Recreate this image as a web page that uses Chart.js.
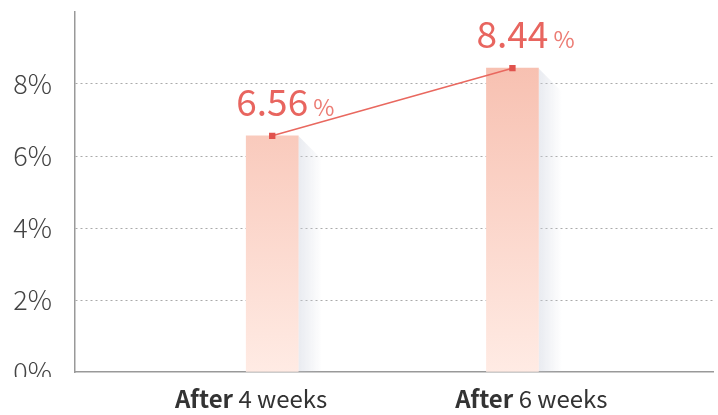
<!DOCTYPE html>
<html>
<head>
<meta charset="utf-8">
<script src="https://cdn.jsdelivr.net/npm/chart.js@4"></script>
<style>
  html, body { margin: 0; padding: 0; background: #fff; }
  #wrap { width: 718px; height: 415px; }
</style>
</head>
<body>
<div id="wrap"><canvas id="chart"></canvas></div>
<script>
const weeks = ["4 weeks", "6 weeks"];
const rates = [6.56, 8.44];
const yTicks = [0, 2, 4, 6, 8];

const FONT = "'Noto Sans CJK KR', 'Noto Sans', sans-serif";

// shadow on the right side of each bar
const barShadow = {
  id: "barShadow",
  beforeDatasetsDraw(chart) {
    const ctx = chart.ctx;
    chart.getDatasetMeta(0).data.forEach(bar => {
      const right = bar.x + bar.width / 2;
      const w = 24;
      const g = ctx.createLinearGradient(right, 0, right + w, 0);
      g.addColorStop(0, "rgba(205,210,222,0.45)");
      g.addColorStop(1, "rgba(205,210,222,0)");
      ctx.save();
      ctx.fillStyle = g;
      ctx.beginPath();
      ctx.moveTo(right, bar.y);
      ctx.lineTo(right + w, bar.y + w);
      ctx.lineTo(right + w, bar.base);
      ctx.lineTo(right, bar.base);
      ctx.closePath();
      ctx.fill();
      ctx.restore();
    });
  }
};

// value labels, x labels and clipping of the 0% tick
const labels = {
  id: "labels",
  afterDraw(chart) {
    const ctx = chart.ctx;
    const area = chart.chartArea;
    ctx.save();
    // the 0% label is cut off in the original
    ctx.fillStyle = "#fff";
    ctx.fillRect(0, area.bottom + 5, area.left - 4, chart.height - area.bottom);

    ctx.textBaseline = "alphabetic";
    chart.getDatasetMeta(1).data.forEach((pt, i) => {
      const num = rates[i].toFixed(2);
      ctx.font = "400 37px " + FONT;
      const w = ctx.measureText(num).width;
      const base = pt.y - 20;
      ctx.fillStyle = "#e8655f";
      ctx.textAlign = "center";
      ctx.fillText(num, pt.x, base);
      ctx.font = "400 23px " + FONT;
      ctx.fillStyle = "#ec7d75";
      ctx.textAlign = "left";
      ctx.fillText("%", pt.x + w / 2 + 5, base);
    });

    const x2 = chart.scales.x2;
    weeks.forEach((wk, i) => {
      const cx = x2.getPixelForValue(i);
      ctx.font = "700 24px " + FONT;
      const a = ctx.measureText("After").width;
      ctx.font = "400 24px " + FONT;
      const b = ctx.measureText(" " + wk).width;
      const start = cx - (a + b) / 2;
      ctx.fillStyle = "#333";
      ctx.textAlign = "left";
      ctx.font = "700 24px " + FONT;
      ctx.fillText("After", start, 408);
      ctx.font = "400 24px " + FONT;
      ctx.fillText(" " + wk, start + a, 408);
    });
    ctx.restore();
  }
};

const noPad = (s) => {
  s.paddingTop = 0; s.paddingBottom = 0;
  s.paddingLeft = 0; s.paddingRight = 0;
};

new Chart(document.getElementById("chart"), {
  type: "bar",
  data: {
    datasets: [
      {
        type: "bar",
        data: rates.map((v, i) => ({ x: i, y: v })),
        barThickness: 52,
        backgroundColor: (c) => {
          const a = c.chart.chartArea;
          if (!a) return "#f8c6b8";
          const g = c.chart.ctx.createLinearGradient(0, a.top, 0, a.bottom);
          g.addColorStop(0, "#f6b9a8");
          g.addColorStop(1, "#ffebe4");
          return g;
        },
        borderWidth: 0,
        order: 2
      },
      {
        type: "line",
        data: rates.map((v, i) => ({ x: i, y: v })),
        borderColor: "#e9685f",
        borderWidth: 1.5,
        pointStyle: "rect",
        pointRadius: 4.5,
        pointBackgroundColor: "#e0524d",
        pointBorderWidth: 0,
        order: 1
      }
    ]
  },
  options: {
    responsive: true,
    maintainAspectRatio: false,
    animation: false,
    layout: { padding: { top: 12, bottom: 43, left: 0, right: 0 } },
    plugins: {
      legend: { display: false },
      tooltip: { enabled: false }
    },
    scales: {
      x: {
        type: "linear",
        offset: false,
        min: -0.821,
        max: 1.837,
        afterFit: (s) => { s.height = 0; noPad(s); },
        grid: { display: false, drawTicks: false },
        ticks: { display: false },
        border: { color: "#999", width: 1.5 }
      },
      x2: {
        type: "linear",
        position: "top",
        offset: false,
        min: -0.6286,
        max: 1.65,
        afterFit: (s) => { s.height = 0; noPad(s); },
        grid: { display: false, drawTicks: false },
        ticks: { display: false },
        border: { display: false }
      },
      y: {
        min: 0,
        max: 10,
        afterBuildTicks: (s) => { s.ticks = yTicks.map(v => ({ value: v })); },
        afterFit: (s) => { s.width = 75; noPad(s); },
        grid: {
          drawTicks: false,
          color: (c) => c.tick.value === 0 ? "rgba(0,0,0,0)" : "#aaa",
          lineWidth: 1
        },
        border: { color: "#999", width: 1.5, dash: [2, 3] },
        ticks: {
          padding: 23,
          color: "#444",
          font: { family: FONT, size: 27, weight: 300 },
          callback: (v) => v + "%"
        }
      }
    }
  },
  plugins: [barShadow, labels]
});
</script>
</body>
</html>
